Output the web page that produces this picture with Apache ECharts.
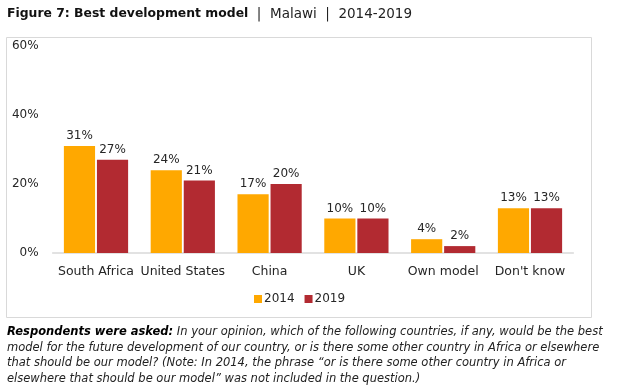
<!DOCTYPE html>
<html><head><meta charset="utf-8">
<script src="https://cdn.jsdelivr.net/npm/echarts@6/dist/echarts.min.js"></script>
<style>html,body{margin:0;padding:0;background:#fff}#c{width:623px;height:392px}</style>
</head><body><div id="c"></div>
<script>
const categories = ['South Africa', 'United States', 'China', 'UK', 'Own model', "Don't know"];
const values2014 = [31, 24, 17, 10, 4, 13];
const values2019 = [27, 21, 20, 10, 2, 13];
const yTicks = [0, 20, 40, 60];
const footLines = [
  ['Respondents were asked:', ' In your opinion, which of the following countries, if any, would be the best'],
  ['', 'model for the future development of our country, or is there some other country in Africa or elsewhere'],
  ['', 'that should be our model? (Note: In 2014, the phrase \u201cor is there some other country in Africa or'],
  ['', 'elsewhere that should be our model\u201d was not included in the question.)']
];
const FONT = 'DejaVu Sans';
const chart = echarts.init(document.getElementById('c'), null, {renderer: 'canvas'});
const label = {show: true, position: 'top', distance: 4, formatter: '{c}%', color: '#262626', fontSize: 12, fontFamily: FONT};
const graphics = [
  {type: 'rect', shape: {x: 6.5, y: 37.5, width: 585, height: 280}, style: {fill: 'none', stroke: '#d9d9d9', lineWidth: 1}, z: -1}
];
footLines.forEach((l, i) => {
  graphics.push({
    type: 'text', left: 7, top: 326 + i * 15.7,
    style: {
      text: (l[0] ? '{b|' + l[0] + '}' : '') + '{n|' + l[1] + '}',
      rich: {
        b: {fontWeight: 'bold', fontStyle: 'italic', fontSize: 11.5, fontFamily: FONT, fill: '#000'},
        n: {fontStyle: 'italic', fontSize: 11.5, fontFamily: FONT, fill: '#222'}
      }
    }
  });
});
chart.setOption({
  animation: false,
  title: {
    left: 7, top: 7, padding: 0,
    text: '{b|Figure 7: Best development model}{n|  |  Malawi  |  2014-2019}',
    textStyle: {
      fontWeight: 'normal',
      rich: {
        b: {fontWeight: 'bold', fontSize: 12.4, fontFamily: FONT, color: '#111'},
        n: {fontWeight: 'normal', fontSize: 13.5, fontFamily: FONT, color: '#222'}
      }
    }
  },
  legend: {
    top: 293, left: 254, padding: 0, itemWidth: 8, itemHeight: 8, itemGap: 10,
    icon: 'rect',
    textStyle: {fontSize: 12, fontFamily: FONT, color: '#262626', padding: [0, 0, 0, -3]},
    data: ['2014', '2019']
  },
  grid: {left: 52.6, right: 49.6, top: 46, bottom: 139},
  xAxis: {
    type: 'category', data: categories,
    axisLine: {lineStyle: {color: '#d9d9d9', width: 1.5}},
    axisTick: {show: false},
    axisLabel: {color: '#262626', fontSize: 12.5, fontFamily: FONT, margin: 12, interval: 0}
  },
  yAxis: {
    type: 'value', min: 0, max: 60, interval: 20,
    axisLine: {show: false}, axisTick: {show: false}, splitLine: {show: false},
    axisLabel: {formatter: v => yTicks.includes(v) ? v + '%' : '', color: '#262626', fontSize: 12, fontFamily: FONT, margin: 14}
  },
  series: [
    {name: '2014', type: 'bar', data: values2014, itemStyle: {color: '#FFA800'}, barGap: '6%', barCategoryGap: '26%', label},
    {name: '2019', type: 'bar', data: values2019, itemStyle: {color: '#B22A31'}, label}
  ],
  graphic: graphics
});
</script></body></html>
